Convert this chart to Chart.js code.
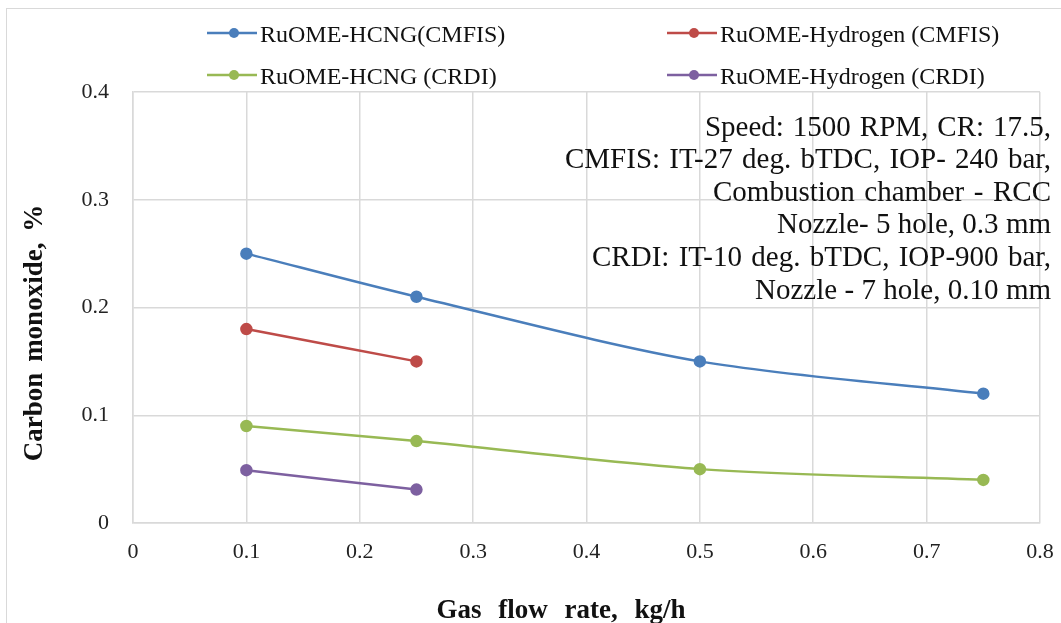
<!DOCTYPE html>
<html><head><meta charset="utf-8">
<script src="https://cdn.jsdelivr.net/npm/chart.js@4.4.1/dist/chart.umd.min.js"></script>
<style>html,body{margin:0;padding:0;background:#fff;overflow:hidden}</style>
</head><body>
<canvas id="c" width="1061" height="623"></canvas>
<script>
const seriesLabels = ['RuOME-HCNG(CMFIS)', 'RuOME-Hydrogen (CMFIS)', 'RuOME-HCNG (CRDI)', 'RuOME-Hydrogen (CRDI)'];
const gasFlowHcng = [0.1, 0.25, 0.5, 0.75];
const gasFlowHydrogen = [0.1, 0.25];
const coHcngCmfis = [0.25, 0.21, 0.15, 0.12];
const coHydrogenCmfis = [0.18, 0.15];
const coHcngCrdi = [0.09, 0.076, 0.05, 0.04];
const coHydrogenCrdi = [0.049, 0.031];
const xTickLabels = ['0', '0.1', '0.2', '0.3', '0.4', '0.5', '0.6', '0.7', '0.8'];
const yTickLabels = ['0', '0.1', '0.2', '0.3', '0.4'];
const xAxisTitle = 'Gas flow rate, kg/h';
const yAxisTitle = 'Carbon monoxide, %';
const noteLines = [
  'Speed: 1500 RPM, CR: 17.5,',
  'CMFIS: IT-27 deg. bTDC, IOP- 240 bar,',
  'Combustion chamber - RCC',
  'Nozzle- 5 hole, 0.3 mm',
  'CRDI: IT-10 deg. bTDC, IOP-900 bar,',
  'Nozzle - 7 hole, 0.10 mm'
];

const SERIF = "'Liberation Serif', 'Times New Roman', serif";
const pts = (xs, ys) => xs.map((x, i) => ({x: x, y: ys[i]}));

function mkSet(label, xs, ys, color) {
  return {
    label: label, data: pts(xs, ys),
    borderColor: color, backgroundColor: color,
    pointBackgroundColor: color, pointBorderColor: color,
    pointRadius: 5, pointHoverRadius: 5, borderWidth: 2.5,
    tension: 0.3, fill: false
  };
}

const overlay = {
  id: 'overlay',
  beforeDraw(chart) {
    const ctx = chart.ctx;
    ctx.save();
    ctx.strokeStyle = '#d9d9d9';
    ctx.lineWidth = 1;
    ctx.strokeRect(6.5, 8.5, 1200, 800);
    ctx.restore();
  },
  afterDraw(chart) {
    const ctx = chart.ctx;
    ctx.save();
    // legend (2 x 2)
    const colX = [207, 667], rowY = [33, 75];
    chart.data.datasets.forEach((ds, i) => {
      const x0 = colX[i % 2], y = rowY[Math.floor(i / 2)];
      ctx.strokeStyle = ds.borderColor;
      ctx.lineWidth = 2.5;
      ctx.beginPath(); ctx.moveTo(x0, y); ctx.lineTo(x0 + 50, y); ctx.stroke();
      ctx.fillStyle = ds.borderColor;
      ctx.beginPath(); ctx.arc(x0 + 27, y, 5, 0, Math.PI * 2); ctx.fill();
      ctx.fillStyle = '#111';
      ctx.font = '24px ' + SERIF;
      ctx.textAlign = 'left'; ctx.textBaseline = 'alphabetic';
      ctx.fillText(ds.label, x0 + 53, y + 9);
    });
    // notes, right aligned, justified to reference widths
    const lefts = [705, 565, 713, 777, 592, 755];
    const right = 1051;
    ctx.font = '29px ' + SERIF;
    ctx.fillStyle = '#111';
    ctx.textAlign = 'right'; ctx.textBaseline = 'alphabetic';
    noteLines.forEach((t, i) => {
      ctx.wordSpacing = '0px';
      const w = ctx.measureText(t).width;
      const n = (t.match(/ /g) || []).length;
      const extra = Math.max(0, (right - lefts[i] - w) / Math.max(1, n));
      ctx.wordSpacing = extra.toFixed(2) + 'px';
      ctx.fillText(t, right, 135.5 + i * 32.6);
    });
    ctx.wordSpacing = '0px';
    // axis titles
    ctx.font = 'bold 27px ' + SERIF;
    ctx.textAlign = 'center';
    ctx.wordSpacing = '10px';
    ctx.fillText(xAxisTitle, 561, 618);
    ctx.wordSpacing = '4px';
    ctx.translate(42, 333);
    ctx.rotate(-Math.PI / 2);
    ctx.fillText(yAxisTitle, 0, 0);
    ctx.restore();
  }
};

new Chart(document.getElementById('c'), {
  type: 'line',
  data: {
    datasets: [
      mkSet(seriesLabels[0], gasFlowHcng, coHcngCmfis, '#4A7EBB'),
      mkSet(seriesLabels[1], gasFlowHydrogen, coHydrogenCmfis, '#BE4B48'),
      mkSet(seriesLabels[2], gasFlowHcng, coHcngCrdi, '#98B954'),
      mkSet(seriesLabels[3], gasFlowHydrogen, coHydrogenCrdi, '#7D60A0')
    ]
  },
  options: {
    responsive: false, animation: false, devicePixelRatio: 1,
    layout: {padding: {top: 92, right: 21, left: 0, bottom: 0}},
    plugins: {legend: {display: false}, tooltip: {enabled: false}},
    scales: {
      x: {
        type: 'linear', min: 0, max: 0.8,
        ticks: {stepSize: 0.1, padding: 16, color: '#222', font: {family: SERIF, size: 22},
          callback: (v, i) => xTickLabels[i]},
        grid: {color: '#d9d9d9', drawTicks: false, lineWidth: 1.5},
        border: {display: true, color: '#d9d9d9', width: 1.5},
        afterFit: s => { s.height = 100; s.paddingLeft = 0; s.paddingRight = 0; }
      },
      y: {
        type: 'linear', min: 0, max: 0.4,
        ticks: {stepSize: 0.1, padding: 24, color: '#222', font: {family: SERIF, size: 22},
          callback: (v, i) => yTickLabels[i]},
        grid: {color: '#d9d9d9', drawTicks: false, lineWidth: 1.5},
        border: {display: true, color: '#d9d9d9', width: 1.5},
        afterFit: s => { s.width = 133; }
      }
    }
  },
  plugins: [overlay]
});
</script>
</body></html>
